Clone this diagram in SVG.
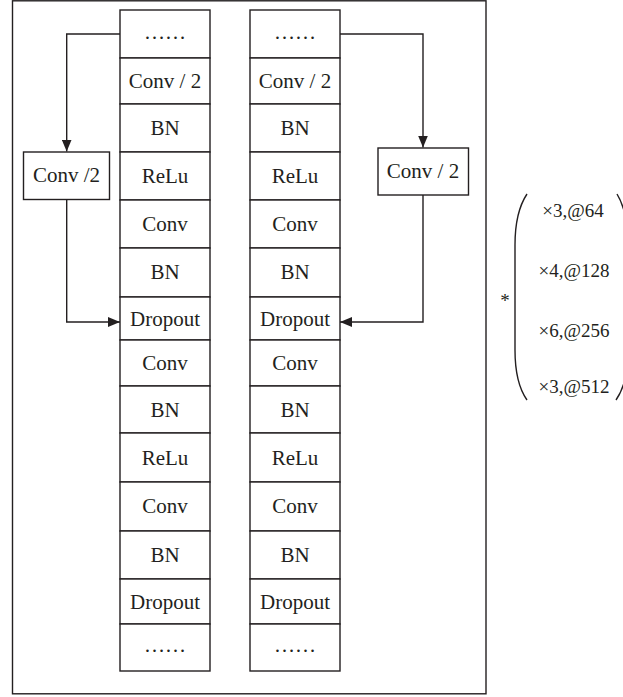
<svg xmlns="http://www.w3.org/2000/svg" width="623" height="697" viewBox="0 0 623 697">
<style>
.cell{fill:#fff;stroke:#231f20;stroke-width:1.4}
.box{fill:#fff;stroke:#231f20;stroke-width:1.4}
.t{font-family:"Liberation Serif","Times New Roman",serif;font-size:21px;fill:#231f20;text-anchor:middle}
.m{font-family:"Liberation Serif","Times New Roman",serif;font-size:19px;fill:#231f20;text-anchor:middle}
.c{fill:none;stroke:#231f20;stroke-width:1.4}
</style>
<defs>
<marker id="ah" markerUnits="userSpaceOnUse" markerWidth="12" markerHeight="10" refX="12" refY="5" orient="auto">
<path d="M0,0 L12,5 L0,10 Z" fill="#231f20"/>
</marker>
</defs>
<rect x="12.5" y="0.8" width="473.5" height="693" fill="none" stroke="#231f20" stroke-width="1.4"/>

<g id="left-column">
<rect class="cell" x="120" y="10" width="90" height="48"/><text class="t" x="165" y="39">……</text>
<rect class="cell" x="120" y="58" width="90" height="46"/><text class="t" x="165" y="88">Conv / 2</text>
<rect class="cell" x="120" y="104" width="90" height="48"/><text class="t" x="165" y="135">BN</text>
<rect class="cell" x="120" y="152" width="90" height="48"/><text class="t" x="165" y="183">ReLu</text>
<rect class="cell" x="120" y="200" width="90" height="48"/><text class="t" x="165" y="231">Conv</text>
<rect class="cell" x="120" y="248" width="90" height="49"/><text class="t" x="165" y="279">BN</text>
<rect class="cell" x="120" y="297" width="90" height="43"/><text class="t" x="165" y="326">Dropout</text>
<rect class="cell" x="120" y="340" width="90" height="46"/><text class="t" x="165" y="370">Conv</text>
<rect class="cell" x="120" y="386" width="90" height="47"/><text class="t" x="165" y="417">BN</text>
<rect class="cell" x="120" y="433" width="90" height="49"/><text class="t" x="165" y="465">ReLu</text>
<rect class="cell" x="120" y="482" width="90" height="49"/><text class="t" x="165" y="513">Conv</text>
<rect class="cell" x="120" y="531" width="90" height="48"/><text class="t" x="165" y="562">BN</text>
<rect class="cell" x="120" y="579" width="90" height="45"/><text class="t" x="165" y="609">Dropout</text>
<rect class="cell" x="120" y="624" width="90" height="47"/><text class="t" x="165" y="652">……</text>
</g>

<g id="right-column">
<rect class="cell" x="250" y="10" width="90" height="48"/><text class="t" x="295" y="39">……</text>
<rect class="cell" x="250" y="58" width="90" height="46"/><text class="t" x="295" y="88">Conv / 2</text>
<rect class="cell" x="250" y="104" width="90" height="48"/><text class="t" x="295" y="135">BN</text>
<rect class="cell" x="250" y="152" width="90" height="48"/><text class="t" x="295" y="183">ReLu</text>
<rect class="cell" x="250" y="200" width="90" height="48"/><text class="t" x="295" y="231">Conv</text>
<rect class="cell" x="250" y="248" width="90" height="49"/><text class="t" x="295" y="279">BN</text>
<rect class="cell" x="250" y="297" width="90" height="43"/><text class="t" x="295" y="326">Dropout</text>
<rect class="cell" x="250" y="340" width="90" height="46"/><text class="t" x="295" y="370">Conv</text>
<rect class="cell" x="250" y="386" width="90" height="47"/><text class="t" x="295" y="417">BN</text>
<rect class="cell" x="250" y="433" width="90" height="49"/><text class="t" x="295" y="465">ReLu</text>
<rect class="cell" x="250" y="482" width="90" height="49"/><text class="t" x="295" y="513">Conv</text>
<rect class="cell" x="250" y="531" width="90" height="48"/><text class="t" x="295" y="562">BN</text>
<rect class="cell" x="250" y="579" width="90" height="45"/><text class="t" x="295" y="609">Dropout</text>
<rect class="cell" x="250" y="624" width="90" height="47"/><text class="t" x="295" y="652">……</text>
</g>

<g id="left-shortcut">
<rect class="box" x="23.5" y="152" width="86" height="47.5"/>
<text class="t" x="66.5" y="182">Conv /2</text>
</g>

<g id="right-shortcut">
<rect class="box" x="378" y="148" width="90.5" height="47"/>
<text class="t" x="423" y="178">Conv / 2</text>
</g>

<g id="connectors">
<path class="c" d="M120,34 H66.7 V151.5" marker-end="url(#ah)"/>
<path class="c" d="M66.7,199.5 V322 H120" marker-end="url(#ah)"/>
<path class="c" d="M340,34 H423 V147.5" marker-end="url(#ah)"/>
<path class="c" d="M423,195 V322 H340" marker-end="url(#ah)"/>
</g>

<g id="multiplier">
<text class="m" x="505" y="307">*</text>
<path class="c" d="M527,194 Q515,212 515,245 L515,350 Q515,383 527,400" stroke-width="1.2"/>
<path class="c" d="M617,194 Q628,212 628,245 L628,350 Q628,383 616,400" stroke-width="1.2"/>
<text class="m" x="573" y="217">×3,@64</text>
<text class="m" x="574" y="277">×4,@128</text>
<text class="m" x="574" y="337">×6,@256</text>
<text class="m" x="574" y="393">×3,@512</text>
</g>
</svg>
